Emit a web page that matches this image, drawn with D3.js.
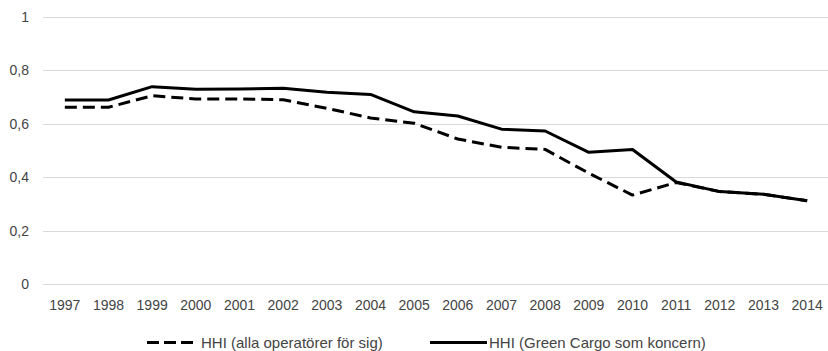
<!DOCTYPE html>
<html>
<head>
<meta charset="utf-8">
<script src="https://cdn.jsdelivr.net/npm/d3@7"></script>
<style>
  html, body { margin: 0; padding: 0; background: #fff; }
  svg { display: block; font-family: "Liberation Sans", Arial, sans-serif; }
</style>
</head>
<body>
<svg id="chart" width="828" height="351"></svg>
<script>
const years = ["1997","1998","1999","2000","2001","2002","2003","2004","2005","2006","2007","2008","2009","2010","2011","2012","2013","2014"];
const hhiAlla = [0.662,0.662,0.705,0.693,0.693,0.69,0.658,0.622,0.602,0.543,0.512,0.504,0.415,0.333,0.38,0.346,0.336,0.312];
const hhiGreenCargo = [0.689,0.689,0.739,0.729,0.730,0.733,0.718,0.710,0.645,0.629,0.580,0.573,0.493,0.504,0.382,0.346,0.336,0.312];
const yTicks = [0, 0.2, 0.4, 0.6, 0.8, 1];
const yTickLabels = ["0", "0,2", "0,4", "0,6", "0,8", "1"];
const seriesNames = ["HHI (alla operatörer för sig)", "HHI (Green Cargo som koncern)"];

const svg = d3.select("#chart");
const textColor = "#444444";
const x = d3.scaleBand().domain(years).range([43, 829]);
const y = d3.scaleLinear().domain([0, 1]).range([284, 17]);

// gridlines
svg.append("g").selectAll("line").data(yTicks).join("line")
  .attr("x1", 43).attr("x2", 829)
  .attr("y1", d => Math.round(y(d)) + 0.5).attr("y2", d => Math.round(y(d)) + 0.5)
  .attr("stroke", "#d9d9d9").attr("stroke-width", 1);

// y labels
svg.append("g").selectAll("text").data(yTicks).join("text")
  .attr("x", 29).attr("y", d => y(d)).attr("dy", "0.36em")
  .attr("text-anchor", "end").attr("font-size", 14).attr("fill", textColor)
  .text((d, i) => yTickLabels[i]);

// x labels
svg.append("g").selectAll("text").data(years).join("text")
  .attr("x", d => x(d) + x.bandwidth() / 2).attr("y", 309.5)
  .attr("text-anchor", "middle").attr("font-size", 14).attr("fill", textColor)
  .text(d => d);

const line = d3.line().x((d, i) => x(years[i]) + x.bandwidth() / 2).y(d => y(d));

svg.append("path").datum(hhiGreenCargo)
  .attr("d", line).attr("fill", "none").attr("stroke", "#000")
  .attr("stroke-width", 3).attr("stroke-linejoin", "round");

svg.append("path").datum(hhiAlla)
  .attr("d", line).attr("fill", "none").attr("stroke", "#000")
  .attr("stroke-width", 3).attr("stroke-dasharray", "12,6").attr("stroke-linejoin", "round");

// legend
const lg = svg.append("g");
lg.append("line").attr("x1", 147).attr("x2", 194).attr("y1", 342.5).attr("y2", 342.5)
  .attr("stroke", "#000").attr("stroke-width", 3).attr("stroke-dasharray", "12,5");
lg.append("text").attr("x", 201).attr("y", 347.5).attr("font-size", 15).attr("fill", textColor)
  .text(seriesNames[0]);
lg.append("line").attr("x1", 430).attr("x2", 487).attr("y1", 342.5).attr("y2", 342.5)
  .attr("stroke", "#000").attr("stroke-width", 3);
lg.append("text").attr("x", 489).attr("y", 347.5).attr("font-size", 15).attr("fill", textColor)
  .text(seriesNames[1]);
</script>
</body>
</html>
